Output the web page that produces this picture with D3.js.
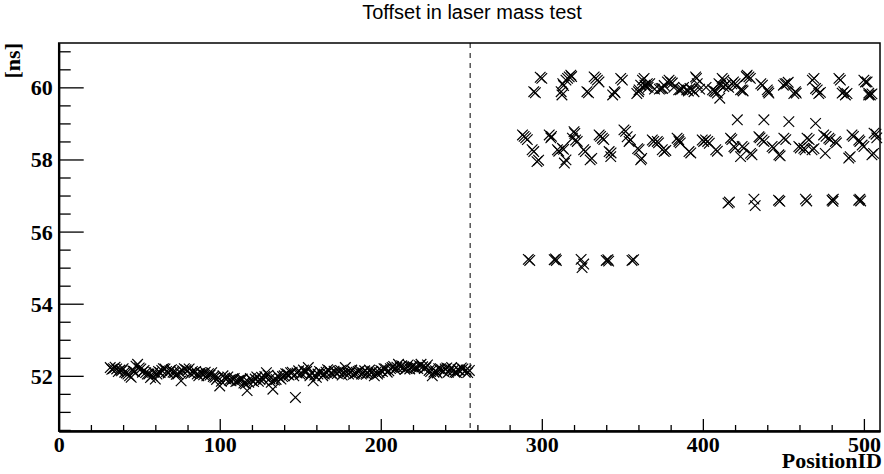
<!DOCTYPE html>
<html><head><meta charset="utf-8">
<script src="https://cdn.jsdelivr.net/npm/d3@7"></script>
<style>body{margin:0;background:#fff}svg{display:block}</style>
</head><body>
<script>
// ---------- data ----------
const title = "Toffset in laser mass test";
const xTitle = "PositionID";
const yTitle = "[ns]";
const xMajorTicks = [0, 100, 200, 300, 400, 500];
const yMajorTicks = [52, 54, 56, 58, 60];
const dividerX = [255.5];

// lower band (PositionID < 256), first reading
const lowX = [32,34,36,38,39,41,43,45,47,49,51,53,54,56,58,60,61,63,64,66,67,69,71,72,74,76,77,79,81,83,84,86,88,90,92,93,95,97,98,100,102,103,104,106,108,110,111,113,114,115,117,118,120,122,124,126,127,129,130,132,133,135,137,138,140,142,144,146,147,149,151,153,155,156,158,159,161,163,164,166,168,170,172,174,176,178,179,181,183,185,187,188,190,192,194,196,197,199,201,203,204,206,207,209,211,212,214,216,218,219,221,222,224,225,227,228,230,232,233,234,236,238,240,242,244,245,247,249,251,252,254,255];
const lowY = [52.23,52.2,52.19,52.16,52.14,52.1,52.05,51.96,52.12,52.32,52.19,52.15,52.09,52.05,52.0,51.91,52.05,52.09,52.15,52.19,52.12,52.14,52.1,52.09,52.05,51.86,52.14,52.17,52.19,52.12,52.09,52.05,52.09,52.03,52.0,52.06,52.09,51.96,51.9,51.72,52.0,51.94,51.91,51.88,51.91,51.84,51.86,51.9,51.91,51.8,51.59,51.82,51.87,51.91,51.85,51.96,51.9,52.09,52.02,51.82,51.63,51.9,51.95,51.91,52.0,52.05,52.09,52.0,51.4,52.14,52.06,52.1,52.23,52.0,51.86,52.02,52.05,52.09,52.0,52.1,52.14,52.05,52.09,52.12,52.02,52.23,52.1,52.09,52.04,52.09,52.15,52.05,52.14,52.08,52.09,52.0,52.1,52.09,52.12,52.19,52.1,52.2,52.23,52.18,52.32,52.25,52.23,52.2,52.19,52.25,52.22,52.23,52.28,52.32,52.2,52.23,52.15,52.0,52.1,52.14,52.2,52.16,52.19,52.1,52.23,52.15,52.09,52.14,52.19,52.12,52.09,52.15];
// lower band, second reading
const lowX2 = [33,35,37,40,42,44,46,48,50,52,55,57,59,62,65,68,70,73,75,78,80,82,85,87,89,91,94,96,99,101,105,107,109,112,116,119,121,123,125,128,131,134,136,139,141,143,145,148,150,152,154,157,160,162,165,167,169,171,173,175,177,180,182,184,186,189,191,193,195,198,200,202,205,208,210,213,215,217,220,223,226,229,231,235,237,239,241,243,246,248,250,253];
const lowY2 = [52.18,52.24,52.12,52.2,52.08,52.0,52.14,52.27,52.22,52.1,52.05,51.95,52.1,52.12,52.2,52.08,52.17,52.04,52.11,52.2,52.14,52.06,52.12,52.0,52.06,52.1,52.02,51.98,51.95,51.85,51.97,51.86,51.93,51.88,51.78,51.93,51.84,51.97,51.9,51.98,51.92,51.88,52.0,51.98,52.06,52.02,52.1,52.08,52.04,52.16,52.12,52.08,51.96,52.12,52.05,52.17,52.08,52.13,52.06,52.15,52.1,52.05,52.16,52.06,52.12,52.08,52.04,52.16,52.12,52.05,52.15,52.2,52.14,52.26,52.24,52.28,52.18,52.3,52.26,52.2,52.25,52.3,52.12,52.08,52.2,52.12,52.22,52.18,52.1,52.17,52.22,52.16];

// band near 60 ns
const topX = [295,299,312,312.5,313,315,317,318,328,332.5,334.5,344,345,349,359,360.4,361.4,363.5,364.5,365.5,366,370,374,375,376,379,380,382,385,386,388,390,392,394.5,395.5,396.5,398,402,406,408,410,410.5,412,413,414,416,419,421,423.4,424.4,427.5,428.6,436,440,440.5,451,452,456.5,457.5,469,471,472,485.4,487.5,488.5,501,502,503,504];
const topY = [59.88,60.28,59.88,59.79,60.1,60.2,60.29,60.34,59.88,60.29,60.2,59.79,59.88,60.25,59.83,59.93,60.06,60.25,60.02,60.1,60.0,59.95,59.97,59.97,60.05,60.2,60.15,60.0,59.93,59.93,60.0,59.93,59.97,59.88,60.29,60.1,59.95,60.0,59.93,59.88,60.1,59.7,60.25,60.02,60.06,60.0,60.15,60.05,59.93,59.93,60.34,60.29,60.1,59.93,59.88,60.1,60.1,59.83,59.88,60.25,59.93,59.83,60.2,59.88,59.79,60.15,60.15,59.79,59.79];
const topX2 = [296,300,313.5,316,318.5,329,333.5,335.5,345.5,350,360,362.5,364,367,373,378,381,387,391,393.5,396,407,409,411,413,418,420,425,427,429.5,437,441,450,453,458,468,470,473,484.5,486.5,489.5,500,503,505];
const topY2 = [59.85,60.25,60.05,60.25,60.3,59.85,60.25,60.15,59.85,60.2,59.88,60.2,60.06,60.1,59.95,60.15,60.12,59.95,59.9,59.93,60.25,59.9,59.84,60.06,60.2,60.1,60.1,59.9,60.3,60.25,60.06,59.84,60.06,60.14,59.84,60.2,59.97,59.86,60.25,59.84,59.83,60.2,59.84,59.82];

// band near 58.4 ns
const midX = [288,290,294,297,304.6,305.6,309.7,312.8,314,315,319,320,321,326,330,335.6,337.6,341.8,342.8,351,353,354.2,360.4,361.4,368.6,371.7,374.8,377,384,385.2,391.4,399.6,401.7,404,408,417.2,419.3,421.4,423.4,424.4,429.6,434.8,436.8,437.9,443,447.2,450.3,453.4,459.6,462.7,464.7,467.8,470,475,476,478.2,482.3,490.6,492.6,496.8,498.9,505,506.3,508];
const midY = [58.68,58.6,58.27,57.94,58.68,58.6,58.27,58.31,57.9,57.99,58.59,58.77,58.54,58.27,57.99,58.68,58.59,58.22,58.08,58.82,58.63,58.5,58.27,57.99,58.54,58.5,58.27,58.25,58.59,58.5,58.22,58.54,58.54,58.45,58.27,58.59,58.36,59.1,58.08,58.36,58.17,58.63,58.54,59.1,58.36,58.13,58.59,59.05,58.36,58.31,58.59,58.27,59.0,58.68,58.17,58.59,58.5,58.04,58.68,58.54,58.4,58.13,58.73,58.6];
const midX2 = [289,291,295,298,306,310.5,313.5,320.5,322,327,331,336.5,338.5,343,352,355,359.5,362,369.5,372.5,376,385,386,392.5,400.5,403,409,418,420,425.5,430.5,435.5,438,444,448,451.5,460.5,463.5,466,469,476.5,479,483,491.5,493.5,497.5,500,506,507.5];
const midY2 = [58.64,58.55,58.22,57.98,58.64,58.23,58.28,58.72,58.5,58.22,58.03,58.64,58.55,58.18,58.78,58.55,58.3,58.03,58.5,58.46,58.22,58.55,58.46,58.18,58.5,58.5,58.23,58.55,58.32,58.32,58.13,58.6,58.5,58.32,58.1,58.55,58.32,58.27,58.55,58.3,58.64,58.55,58.46,58.08,58.64,58.5,58.36,58.17,58.7];

// band near 56.85 ns
const band57X = [415.6,416.5,431.7,432.5,447.8,447,463.7,464.5,480.2,481,480.8,496.8,498,497.5];
const band57Y = [56.79,56.82,56.9,56.72,56.84,56.87,56.9,56.85,56.87,56.9,56.84,56.87,56.85,56.9];

// band near 55.2 ns
const band55X = [291.6,292.5,307.7,308.5,309,324.4,325,326,340,341,341.5,356,357];
const band55Y = [55.23,55.2,55.22,55.24,55.2,55.23,55.0,55.1,55.2,55.22,55.18,55.2,55.22];

// ---------- layout ----------
const W = 884, H = 474;
const m = {left: 58.7, right: 884 - 880, top: 43, bottom: 474 - 431};
const svg = d3.select("body").append("svg").attr("width", W).attr("height", H)
  .style("font-family", "'Liberation Serif', 'Times New Roman', serif");

const x = d3.scaleLinear().domain([0, 510]).range([m.left, W - m.right]);
const y = d3.scaleLinear().domain([50.47, 61.23]).range([H - m.bottom, m.top]);

// title
svg.append("text").attr("x", 472).attr("y", 18.5).attr("text-anchor", "middle")
  .style("font-family", "'Liberation Sans', Arial, sans-serif").style("font-size", "20px")
  .attr("fill", "#000").text(title);

// frame
svg.append("rect").attr("x", x(0)).attr("y", y(61.23))
  .attr("width", x(510) - x(0)).attr("height", y(50.47) - y(61.23))
  .attr("fill", "none").attr("stroke", "#000").attr("stroke-width", 1.5);

// x axis
const xMinor = d3.range(0, 510, 20).filter(v => v % 100 !== 0);
const gxMin = svg.append("g").attr("transform", `translate(0,${y(50.47)})`)
  .call(d3.axisBottom(x).tickValues(xMinor).tickSize(-6).tickSizeOuter(0).tickFormat(""));
const gx = svg.append("g").attr("transform", `translate(0,${y(50.47)})`)
  .call(d3.axisBottom(x).tickValues(xMajorTicks).tickSize(-12).tickSizeOuter(0).tickPadding(5).tickFormat(d3.format("d")));
// y axis
const yMinor = d3.range(51, 61.01, 0.5).filter(v => !yMajorTicks.includes(v)).concat([50.5]);
const gyMin = svg.append("g").attr("transform", `translate(${x(0)},0)`)
  .call(d3.axisLeft(y).tickValues(yMinor).tickSize(-12).tickSizeOuter(0).tickFormat(""));
const gy = svg.append("g").attr("transform", `translate(${x(0)},0)`)
  .call(d3.axisLeft(y).tickValues(yMajorTicks).tickSize(-25).tickSizeOuter(0).tickPadding(6).tickFormat(d3.format("d")));

[gx, gy, gxMin, gyMin].forEach(g => {
  g.select(".domain").attr("stroke", "#000").attr("stroke-width", 2);
  g.selectAll(".tick line").attr("stroke", "#000").attr("stroke-width", 1.3);
  g.selectAll("text").attr("fill", "#000").style("font-size", "22px").style("font-weight", "bold")
    .style("font-family", "'Liberation Serif', 'Times New Roman', serif");
});
gy.selectAll(".tick text").attr("dy", "0.34em").attr("x", -6);

// axis titles
svg.append("text").attr("x", 882).attr("y", 468).attr("text-anchor", "end")
  .style("font-size", "22px").style("font-weight", "bold").text(xTitle);
svg.append("text").attr("transform", `translate(20,${m.top}) rotate(-90)`).attr("text-anchor", "end")
  .style("font-size", "22px").style("font-weight", "bold").text(yTitle);

// divider
svg.selectAll("line.div").data(dividerX).enter().append("line").attr("class", "div")
  .attr("x1", d => x(d)).attr("x2", d => x(d)).attr("y1", y(61.23)).attr("y2", y(50.47))
  .attr("stroke", "#000").attr("stroke-width", 1).attr("stroke-dasharray", "5,5");

// markers
const pts = [];
[[lowX, lowY], [lowX2, lowY2], [topX, topY], [topX2, topY2], [midX, midY], [midX2, midY2],
 [band57X, band57Y], [band55X, band55Y]]
  .forEach(([xs, ys]) => xs.forEach((v, i) => { if (ys[i] !== undefined) pts.push([v, ys[i]]); }));
const s = 5.3;
svg.append("g").selectAll("path").data(pts).enter().append("path")
  .attr("d", d => {
    const cx = x(d[0]), cy = y(d[1]);
    return `M${cx - s},${cy - s}L${cx + s},${cy + s}M${cx - s},${cy + s}L${cx + s},${cy - s}`;
  })
  .attr("stroke", "#000").attr("stroke-width", 1.15).attr("fill", "none");
</script>
</body></html>
